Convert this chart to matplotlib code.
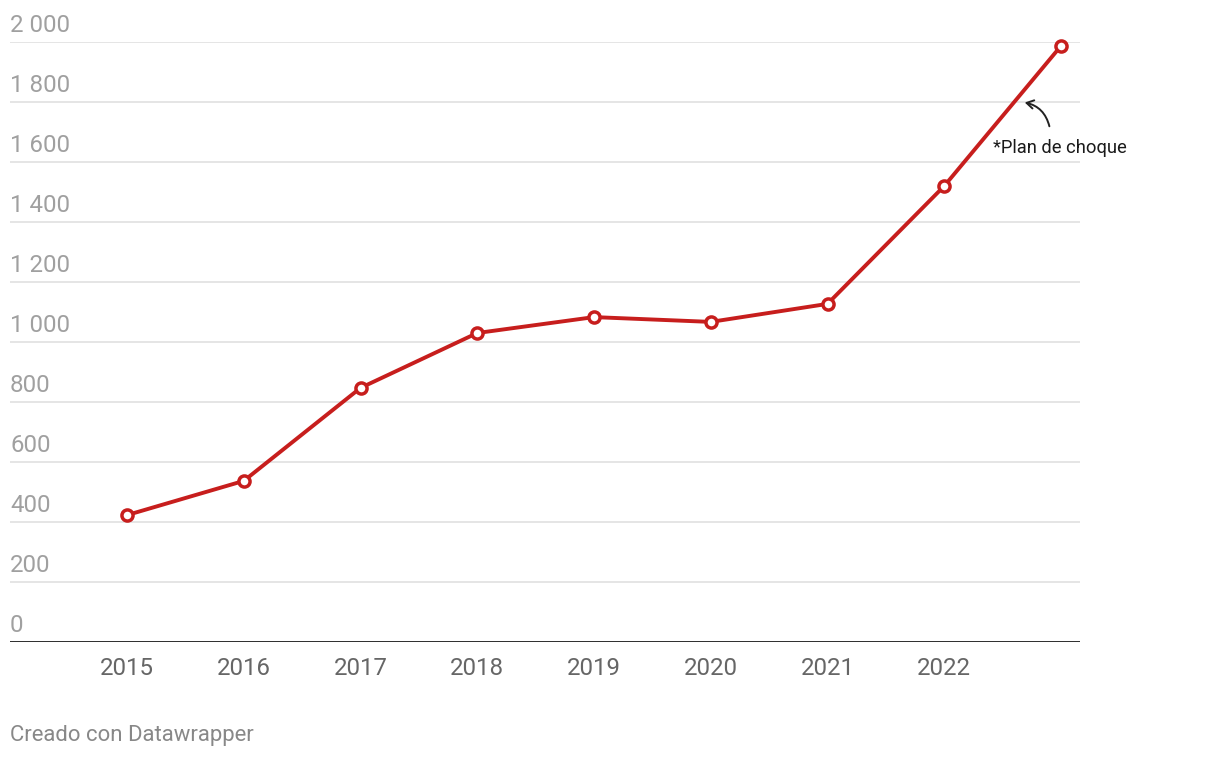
import numpy as np
import matplotlib
matplotlib.use("Agg")
import matplotlib.pyplot as plt
from matplotlib.transforms import blended_transform_factory, offset_copy

plt.rcParams['font.family'] = ['Roboto', 'DejaVu Sans']

# data
years = ["2015", "2016", "2017", "2018", "2019", "2020", "2021", "2022", ""]
values = [423, 537, 847, 1030, 1083, 1067, 1127, 1520, 1987]
yticks = [0, 200, 400, 600, 800, 1000, 1200, 1400, 1600, 1800, 2000]
ytick_labels = ["0", "200", "400", "600", "800", "1 000", "1 200",
                "1 400", "1 600", "1 800", "2 000"]
note = "*Plan de choque"

W, H = 1220, 758
fig = plt.figure(figsize=(W / 100, H / 100), dpi=100)
ax = fig.add_axes([10 / W, (H - 642) / H, 1070 / W, 600 / H])

x = np.arange(len(values))
ax.set_xlim(-117 / 116.75, (1080 - 127) / 116.75)
ax.set_ylim(0, 2000)

# grid lines
for t in yticks[1:]:
    ax.axhline(t, color="#e0e0e0", lw=1.2, zorder=0)
ax.axhline(0, color="#1a1a1a", lw=2, zorder=1)

# y labels sit above the grid lines
trans = blended_transform_factory(ax.transAxes, ax.transData)
trans = offset_copy(trans, fig=fig, x=0, y=3.6, units="points")
for t, lab in zip(yticks, ytick_labels):
    ax.text(0, t, lab, transform=trans, ha="left", va="bottom",
            fontsize=17.3, color="#a0a0a0")

ax.plot(x, values, color="#c71e1d", lw=2.8, zorder=3, clip_on=False,
        marker="o", markersize=8, markerfacecolor="white",
        markeredgecolor="#c71e1d", markeredgewidth=2.5)

ax.set_xticks(x)
ax.set_xticklabels(years, fontsize=17.3, color="#666666")
ax.tick_params(axis="x", length=0, pad=11)
ax.set_yticks([])
for s in ax.spines.values():
    s.set_visible(False)

# annotation
ax.annotate("", xy=((1022 - 127) / 116.75, (642 - 102) / 0.3),
            xytext=((1050 - 127) / 116.75, (642 - 129) / 0.3),
            xycoords="data", textcoords="data",
            arrowprops=dict(arrowstyle="->,head_length=0.5,head_width=0.3",
                            color="#222222", lw=1.4,
                            connectionstyle="arc3,rad=0.35"))
ax.text((993 - 127) / 116.75, (642 - 148) / 0.3, note, ha="left",
        va="center", fontsize=13.2, color="#1a1a1a")

fig.text(10 / W, 1 - 735 / H, "Creado con Datawrapper", ha="left",
         va="center", fontsize=15.9, color="#888888")

fig.savefig("out.png", dpi=100)
